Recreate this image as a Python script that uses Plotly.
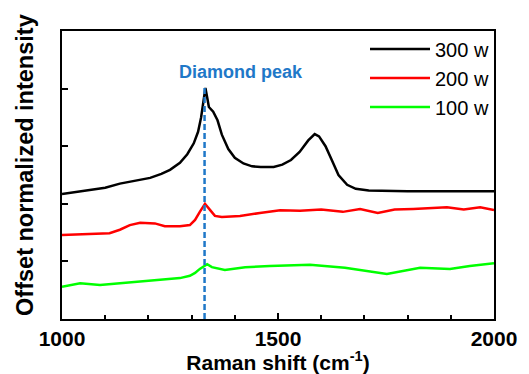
import plotly.graph_objects as go

# 300 w series
x300 = [1000, 1050, 1100, 1134, 1170, 1204, 1230, 1250, 1273, 1290, 1305, 1315, 1322, 1327, 1332,
        1336, 1340, 1350, 1360, 1370, 1385, 1400, 1420, 1440, 1460, 1490, 1510, 1530, 1550, 1570,
        1585, 1595, 1610, 1625, 1640, 1660, 1680, 1710, 1750, 1800, 1900, 2000]
y300 = [2.17, 2.22, 2.28, 2.35, 2.40, 2.45, 2.52, 2.59, 2.71, 2.86, 3.05, 3.25, 3.50, 3.80, 4.01,
        3.85, 3.68, 3.60, 3.45, 3.20, 2.95, 2.80, 2.70, 2.65, 2.64, 2.64, 2.68, 2.76, 2.90, 3.10,
        3.21, 3.17, 3.00, 2.75, 2.50, 2.33, 2.26, 2.23, 2.22, 2.22, 2.22, 2.22]

# 200 w series
x200 = [1000, 1040, 1088, 1110, 1134, 1157, 1181, 1215, 1238, 1273, 1296, 1308, 1319, 1331, 1343, 1354,
        1370, 1412, 1458, 1505, 1551, 1600, 1650, 1690, 1731, 1770, 1813, 1850, 1891, 1930, 1968, 2000]
y200 = [1.46, 1.47, 1.49, 1.49, 1.55, 1.63, 1.67, 1.66, 1.61, 1.61, 1.63, 1.72, 1.86, 2.00, 1.89, 1.79,
        1.77, 1.79, 1.84, 1.89, 1.88, 1.90, 1.86, 1.91, 1.84, 1.90, 1.91, 1.92, 1.94, 1.90, 1.94, 1.89]

# 100 w series
x100 = [1000, 1042, 1088, 1157, 1227, 1273, 1296, 1308, 1319, 1336, 1347, 1377, 1400, 1424, 1481,
        1551, 1574, 1655, 1752, 1829, 1898, 1944, 2000]
y100 = [0.56, 0.62, 0.59, 0.64, 0.68, 0.71, 0.75, 0.80, 0.87, 0.95, 0.90, 0.85, 0.87, 0.90, 0.92,
        0.94, 0.94, 0.89, 0.78, 0.89, 0.87, 0.92, 0.97]

series_names = ["300 w", "200 w", "100 w"]
series_colors = ["#000000", "#ff0000", "#00ff00"]

x_tickvals = [1000, 1500, 2000]
diamond_x = 1330
diamond_top = 4.05
diamond_label = "Diamond peak"
y_title = "Offset normalized intensity"

FONT = "Liberation Sans, Arial, sans-serif"

fig = go.Figure()
for xs, ys, name, col in zip([x300, x200, x100], [y300, y200, y100], series_names, series_colors):
    fig.add_trace(go.Scatter(x=xs, y=ys, mode="lines", name=name,
                             line=dict(color=col, width=2.5)))

fig.add_trace(go.Scatter(x=[diamond_x, diamond_x], y=[0, diamond_top], mode="lines",
                         line=dict(color="#1f78c8", width=2.5, dash="6px,3px"),
                         showlegend=False, hoverinfo="skip"))

fig.add_annotation(x=diamond_x, y=4.29, xref="x", yref="y", text="<b>" + diamond_label + "</b>",
                   showarrow=False, xanchor="center", yanchor="middle", xshift=36,
                   font=dict(family=FONT, size=18, color="#1f78c8"))

# y-axis title (placed as a rotated annotation so it can sit slightly above centre, as in the source)
fig.add_annotation(x=0, y=0.535, xref="paper", yref="paper", text="<b>" + y_title + "</b>",
                   showarrow=False, textangle=-90, xanchor="center", yanchor="middle", xshift=-37,
                   font=dict(family=FONT, size=23.5, color="black"))

# the page body has an 8px default margin, so the figure is sized to fit the 529x374 window
fig.update_layout(
    width=521, height=366,
    margin=dict(l=54, r=35, t=23, b=55),
    paper_bgcolor="white", plot_bgcolor="white",
    font=dict(family=FONT, color="black"),
    showlegend=True,
    legend=dict(x=1.0, y=1.005, xanchor="right", yanchor="top",
                bgcolor="rgba(0,0,0,0)", font=dict(family=FONT, size=20, color="black"),
                itemwidth=60, tracegroupgap=0, borderwidth=0),
    xaxis=dict(range=[1000, 2000], tickvals=x_tickvals, ticks="inside", ticklen=6,
               tickwidth=2, tickcolor="black", automargin=False,
               minor=dict(dtick=100, ticks="inside", ticklen=4, tickwidth=1.5, tickcolor="black"),
               showline=True, linecolor="black", linewidth=2, mirror=True, showgrid=False,
               zeroline=False,
               tickfont=dict(family=FONT, size=21, color="black", weight="bold"),
               title=dict(text="<b>Raman shift (cm<sup>-1</sup>)</b>", standoff=3,
                          font=dict(family=FONT, size=21, color="black"))),
    yaxis=dict(range=[0, 5], dtick=1, ticks="inside", ticklen=6, tickwidth=2, tickcolor="black",
               showticklabels=False, automargin=False,
               showline=True, linecolor="black", linewidth=2, mirror=True, showgrid=False,
               zeroline=False),
)

fig.write_html("out.html")
